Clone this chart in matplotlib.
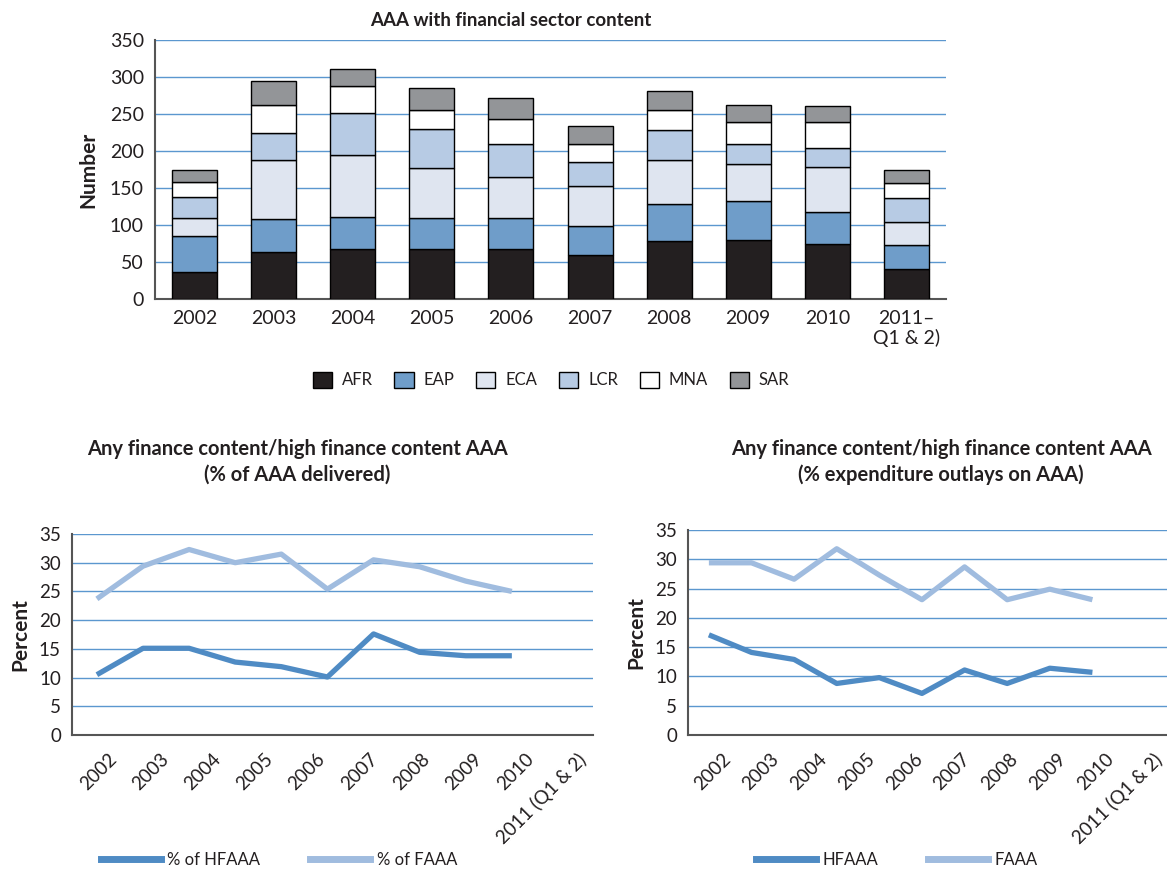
import numpy as np
import matplotlib
matplotlib.use('Agg')
import matplotlib.pyplot as plt
from matplotlib.patches import Patch
from matplotlib.lines import Line2D
import matplotlib.transforms as mtransforms

plt.rcParams['font.family'] = ['Lato', 'DejaVu Sans']

# top chart: AAA with financial sector content (number)
years_bar = ['2002', '2003', '2004', '2005', '2006', '2007', '2008', '2009', '2010', '2011–\nQ1 & 2)']
regions = ['AFR', 'EAP', 'ECA', 'LCR', 'MNA', 'SAR']
afr = [36, 64, 67, 67, 67, 59, 78, 80, 75, 41]
eap = [49, 44, 44, 42, 43, 40, 50, 53, 42, 32]
eca = [25, 80, 83, 68, 55, 54, 60, 50, 62, 31]
lcr = [28, 37, 57, 53, 44, 32, 41, 27, 25, 33]
mna = [20, 37, 37, 26, 34, 24, 27, 29, 35, 20]
sar = [17, 33, 23, 29, 29, 25, 25, 23, 22, 17]
region_colors = ['#231f20', '#6f9dc9', '#dfe5f0', '#b7cbe4', '#ffffff', '#939598']

# bottom charts
years_line = ['2002', '2003', '2004', '2005', '2006', '2007', '2008', '2009', '2010', '2011 (Q1 & 2)']
pct_hfaaa = [10.5, 15.1, 15.1, 12.7, 11.9, 10.1, 17.6, 14.4, 13.8, 13.8]
pct_faaa = [23.7, 29.4, 32.3, 30.0, 31.5, 25.4, 30.5, 29.3, 26.8, 25.0]
exp_hfaaa = [17.1, 14.1, 12.9, 8.8, 9.8, 7.1, 11.1, 8.8, 11.4, 10.7]
exp_faaa = [29.4, 29.4, 26.6, 31.8, 27.3, 23.1, 28.7, 23.1, 24.9, 23.1]

dark_blue = '#4f8bc4'
light_blue = '#a0bcdf'
grid_col = '#5b97cf'
spine_col = '#555555'
txt = '#231f20'

W, H = 1167, 873
fig = plt.figure(figsize=(W / 100, H / 100), dpi=100)


def box(l, r, t, b):
    return [l / W, 1 - b / H, (r - l) / W, (b - t) / H]


# ---- top stacked bars ----
ax = fig.add_axes(box(155, 946, 40, 299))
x = np.arange(len(years_bar))
bottom = np.zeros(len(years_bar))
for name, vals, c in zip(regions, [afr, eap, eca, lcr, mna, sar], region_colors):
    ax.bar(x, vals, 0.57, bottom=bottom, color=c, edgecolor='black', linewidth=1.0, zorder=3, label=name)
    bottom += np.array(vals)
ax.set_xlim(-0.5, 9.5)
ax.set_ylim(0, 350)
ax.set_yticks(range(0, 351, 50))
ax.yaxis.grid(True, color=grid_col, linewidth=1.0, zorder=0)
ax.set_axisbelow(True)
ax.set_xticks(x)
ax.set_xticklabels(years_bar, fontsize=14, color=txt, linespacing=1.15)
ax.tick_params(axis='y', length=0, labelsize=14, labelcolor=txt, pad=8)
ax.tick_params(axis='x', length=0, pad=8)
for s in ['top', 'right']:
    ax.spines[s].set_visible(False)
for s in ['left', 'bottom']:
    ax.spines[s].set_color(spine_col)
    ax.spines[s].set_linewidth(1.5)
ax.set_ylabel('Number', fontsize=15, fontweight='bold', color=txt, labelpad=8)
fig.text(511 / W, 1 - 20 / H, 'AAA with financial sector content', ha='center', va='center',
         fontsize=13.5, fontweight='bold', color=txt)

handles = [Patch(facecolor=c, edgecolor='black', linewidth=1.0) for c in region_colors]
fig.legend(handles, regions, loc='center', bbox_to_anchor=(551 / W, 1 - 380 / H), ncol=6,
           frameon=False, fontsize=12, handlelength=1.15, handleheight=1.15,
           handletextpad=0.6, columnspacing=1.3, labelcolor=txt)


# ---- bottom line charts ----
def line_chart(l, r, t, b, xlim, s1, s2, names, title, title_x, leg_x):
    a = fig.add_axes(box(l, r, t, b))
    xi = np.arange(len(years_line))
    a.plot(xi, s2, color=light_blue, linewidth=3.8, solid_capstyle='butt', zorder=3)
    a.plot(xi, s1, color=dark_blue, linewidth=3.8, solid_capstyle='butt', zorder=3)
    a.set_xlim(*xlim)
    a.set_ylim(0, 35)
    a.set_yticks(range(0, 36, 5))
    a.yaxis.grid(True, color=grid_col, linewidth=1.0, zorder=0)
    a.set_xticks([])
    a.tick_params(axis='y', length=0, labelsize=13.5, labelcolor=txt, pad=8)
    for s in ['top', 'right']:
        a.spines[s].set_visible(False)
    for s in ['left', 'bottom']:
        a.spines[s].set_color(spine_col)
        a.spines[s].set_linewidth(1.5)
    a.set_ylabel('Percent', fontsize=15, fontweight='bold', color=txt, labelpad=6)

    # category labels spread over the full plot width
    lab = a.twiny()
    lab.set_xlim(-0.5, 9.5)
    lab.xaxis.set_ticks_position('bottom')
    lab.set_xticks(xi)
    lab.set_xticklabels(years_line, rotation=45, ha='right', va='top', rotation_mode='anchor',
                        fontsize=13.5, color=txt)
    lab.tick_params(axis='x', length=0, pad=11)
    off = mtransforms.ScaledTranslation(0.10, 0, fig.dpi_scale_trans)
    for tl in lab.get_xticklabels():
        tl.set_transform(tl.get_transform() + off)
    for s in lab.spines.values():
        s.set_visible(False)

    fig.text(title_x / W, 1 - 462 / H, title, ha='center', va='center', fontsize=14.5,
             fontweight='bold', color=txt, linespacing=1.35)
    hl = [Line2D([], [], color=dark_blue, linewidth=5), Line2D([], [], color=light_blue, linewidth=5)]
    fig.legend(hl, names, loc='center', bbox_to_anchor=(leg_x / W, 1 - 860 / H), ncol=2,
               frameon=False, fontsize=12, handlelength=3.6, handletextpad=0.4,
               columnspacing=3.0, labelcolor=txt)
    return a


line_chart(72, 593, 534, 735, (-0.54, 10.76), pct_hfaaa, pct_faaa, ['% of HFAAA', '% of FAAA'],
           'Any finance content/high finance content AAA\n(% of AAA delivered)', 297, 279)
line_chart(688, 1167, 530, 735, (-0.49, 10.75), exp_hfaaa, exp_faaa, ['HFAAA', 'FAAA'],
           'Any finance content/high finance content AAA\n(% expenditure outlays on AAA)', 941, 897)

fig.savefig('out.png', dpi=100)
